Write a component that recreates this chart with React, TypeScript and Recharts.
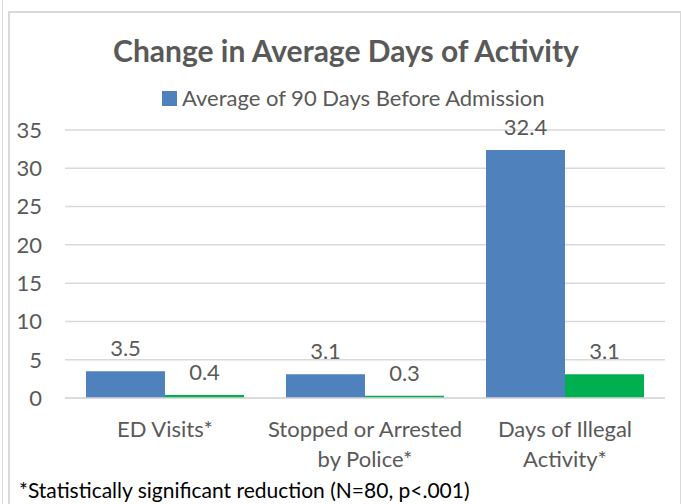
import React from "react";
import { BarChart, Bar, XAxis, YAxis, CartesianGrid, LabelList } from "recharts";

const categories = ["ED Visits*", "Stopped or Arrested by Police*", "Days of Illegal Activity*"];
const categoryLines = [["ED Visits*"], ["Stopped or Arrested", "by Police*"], ["Days of Illegal", "Activity*"]];
const beforeValues = [3.5, 3.1, 32.4];
const afterValues = [0.4, 0.3, 3.1];
const yTicks = [0, 5, 10, 15, 20, 25, 30, 35];
const beforeName = "Average of 90 Days Before Admission";
const afterName = "Average of 90 Days After Admission";

const data = categories.map((c, i) => ({ name: c, idx: i, before: beforeValues[i], after: afterValues[i] }));

const FONT = "Lato, 'Open Sans', sans-serif";
const TEXT = "#595959";
const BLUE = "#4f81bd";
const GREEN = "#00b050";
const GRID = "#d9d9d9";
const FS = 22;

const XTick = (props: any) => {
  const { x, y, index } = props;
  const lines = categoryLines[index] || [];
  return (
    <g>
      {lines.map((l: string, i: number) => (
        <text key={i} x={x} y={y + 31 + i * 30} textAnchor="middle" fill={TEXT} fontSize={FS} fontFamily={FONT}>
          {l}
        </text>
      ))}
    </g>
  );
};

export default function App() {
  return (
    <div style={{ position: "absolute", left: 0, top: 0, width: 681, height: 504, background: "#fff", overflow: "hidden" }}>
      <div style={{ position: "absolute", left: 2, top: 0, width: 1, height: 504, background: GRID }} />
      <div style={{ position: "absolute", left: 8, top: 11, width: 670, height: 520, border: `2px solid ${GRID}` }} />
      <div
        style={{
          position: "absolute",
          left: 0,
          top: 32,
          width: 692,
          textAlign: "center",
          fontFamily: FONT,
          fontWeight: 700,
          fontSize: 30,
          lineHeight: "36px",
          color: TEXT,
        }}
      >
        Change in Average Days of Activity
      </div>
      <div
        style={{
          position: "absolute",
          left: 162,
          top: 84,
          display: "flex",
          alignItems: "center",
          fontFamily: FONT,
          fontSize: FS,
          lineHeight: "28px",
          color: TEXT,
        }}
      >
        <span style={{ display: "inline-block", width: 15, height: 15, background: BLUE, marginRight: 5 }} />
        <span>{beforeName}</span>
      </div>
      <div style={{ position: "absolute", left: 0, top: 0 }}>
        <BarChart
          width={681}
          height={504}
          data={data}
          margin={{ top: 130, right: 16, bottom: 46, left: 15 }}
          barCategoryGap={21}
          barGap={0}
        >
          <CartesianGrid vertical={false} stroke={GRID} strokeWidth={1.5} />
          <XAxis
            dataKey="name"
            axisLine={{ stroke: GRID, strokeWidth: 1.5 }}
            tickLine={false}
            tick={<XTick />}
            height={60}
            interval={0}
          />
          <YAxis
            domain={[0, 35]}
            ticks={yTicks}
            axisLine={false}
            tickLine={false}
            tickSize={0}
            tickMargin={23}
            width={50}
            tick={{ fill: TEXT, fontSize: FS, fontFamily: FONT }}
          />
          <Bar dataKey="before" name={beforeName} fill={BLUE} isAnimationActive={false}>
            <LabelList dataKey="before" position="top" offset={15} fill={TEXT} fontSize={FS} fontFamily={FONT} />
          </Bar>
          <Bar dataKey="after" name={afterName} fill={GREEN} isAnimationActive={false}>
            <LabelList dataKey="after" position="top" offset={15} fill={TEXT} fontSize={FS} fontFamily={FONT} />
          </Bar>
        </BarChart>
      </div>
      <div style={{ position: "absolute", left: 19, top: 477, fontFamily: FONT, fontSize: 21, lineHeight: "26px", color: "#000" }}>
        *Statistically significant reduction (N=80, p&lt;.001)
      </div>
    </div>
  );
}
